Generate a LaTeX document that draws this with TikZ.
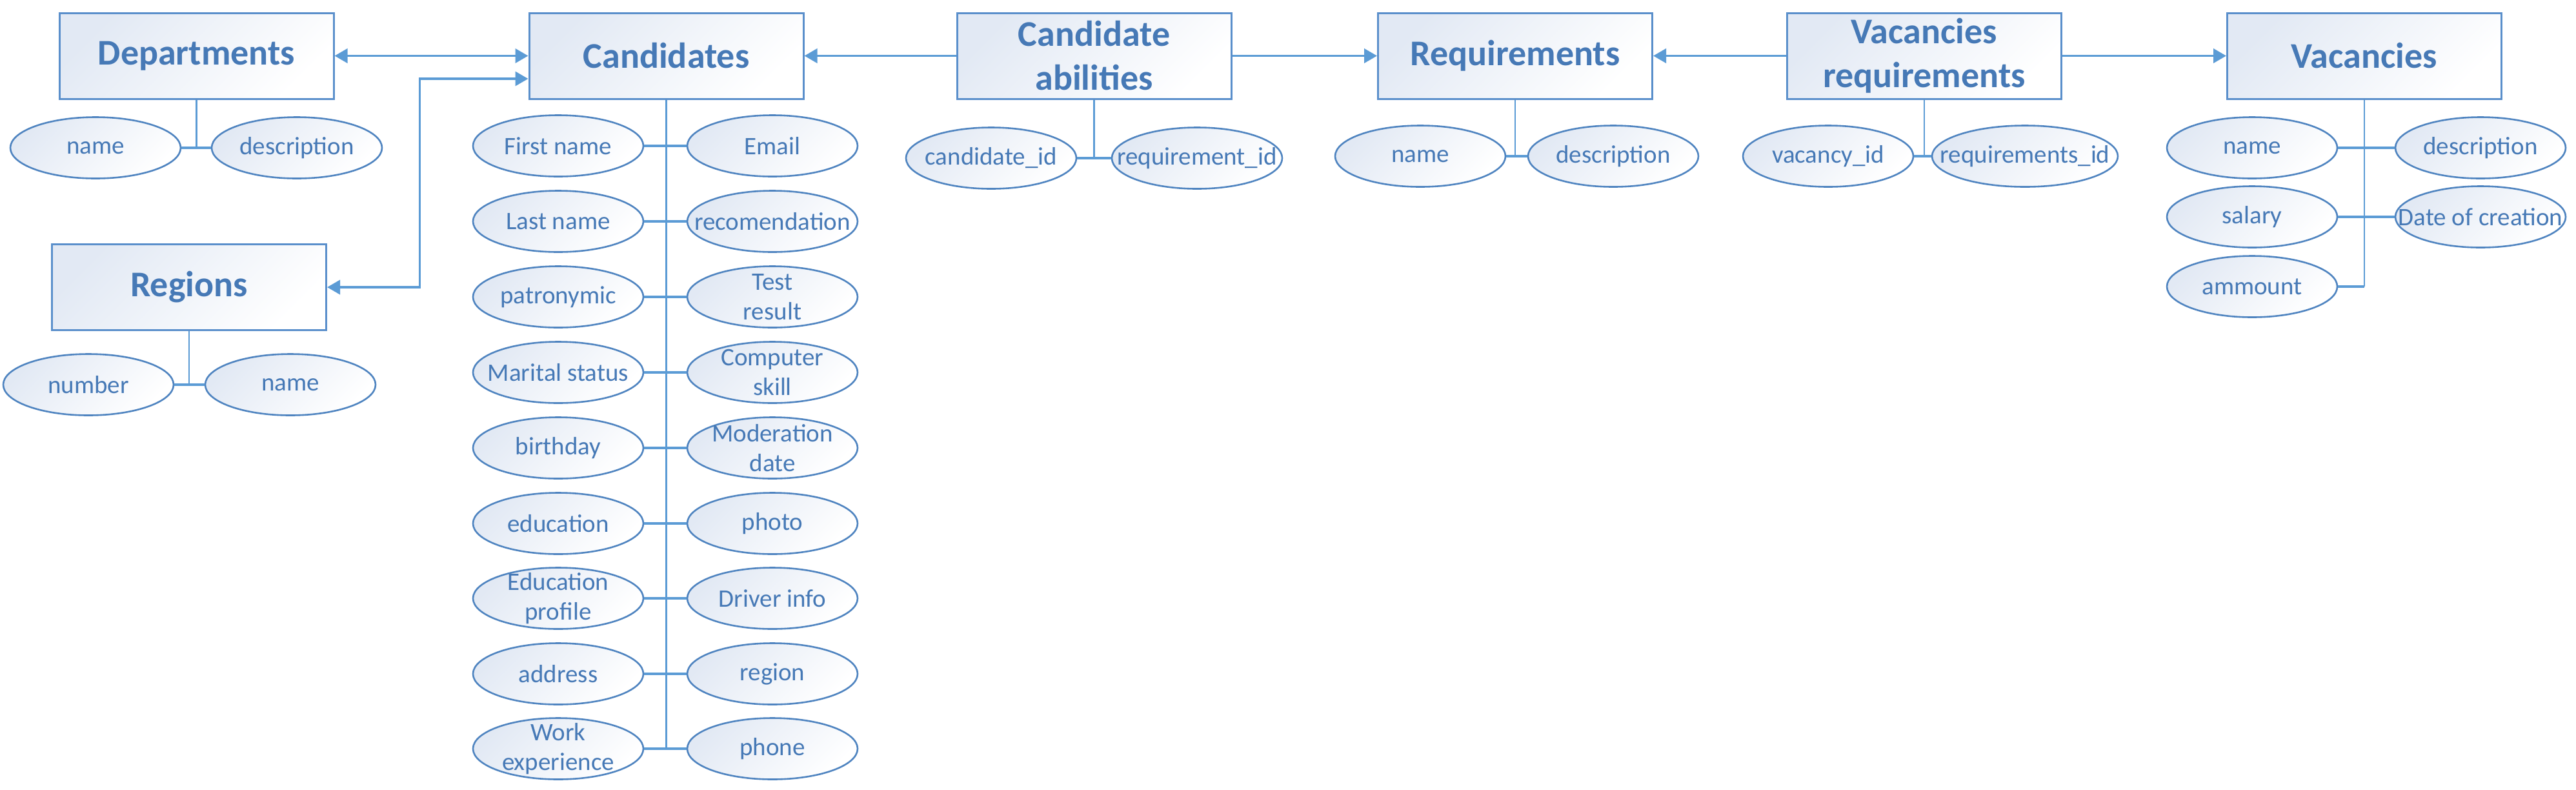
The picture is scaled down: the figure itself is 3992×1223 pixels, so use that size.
\documentclass[tikz,border=0pt]{standalone}
\usepackage{fontspec}
\setmainfont{Carlito}
\usetikzlibrary{shapes.geometric,arrows.meta,calc}
\definecolor{txtc}{HTML}{4679B6}
\definecolor{linec}{HTML}{5B9BD5}
\definecolor{boxc}{HTML}{5A8FCB}
\definecolor{ellc}{HTML}{4F84C0}
\definecolor{gradc}{HTML}{E2E9F4}
\begin{document}
\begin{tikzpicture}[x=0.5pt,y=-0.5pt,
  entity/.style={rectangle, draw=boxc, line width=1.5pt, minimum width=212.5pt, minimum height=66.5pt, inner sep=0pt,
    top color=gradc, bottom color=white, shading angle=45, text=txtc,
    font=\fontsize{28}{34}\selectfont\bfseries, align=center},
  attr/.style={ellipse, draw=ellc, line width=1.3pt, minimum width=132pt, minimum height=47.5pt,
    inner xsep=-25pt, inner ysep=-8pt, top color=gradc, bottom color=white, shading angle=45,
    text=txtc, font=\fontsize{19.5}{23}\selectfont, align=center},
  conn/.style={draw=linec, line width=2pt},
  trunk/.style={draw=linec, line width=1.2pt},
  arr/.style={draw=linec, line width=1.9pt, -{Triangle[length=10pt,width=11pt]}},
  biarr/.style={draw=linec, line width=1.9pt, {Triangle[length=10pt,width=11pt]}-{Triangle[length=10pt,width=11pt]}}
]
\useasboundingbox (0,0) rectangle (3992,1223);

% entities
\node[entity] (dept) at (304.5,86.5) {Departments};
\node[entity] (cand) at (1032.5,86.5) {Candidates};
\node[entity] (reg) at (293,445) {Regions};
\node[entity] (cab) at (1695.5,86.5) {Candidate\\abilities};
\node[entity] (req) at (2348,86.5) {Requirements};
\node[entity] (vreq) at (2982,86.5) {Vacancies\\requirements};
\node[entity] (vac) at (3664,86.5) {Vacancies};

% Departments attributes
\node[attr] (dname) at (148,229) {name};
\node[attr] (ddesc) at (460,229) {description};
\draw[trunk] (dept.south) -- (dept.south |- dname.east);
\draw[conn] (dname.east) -- (ddesc.west);

% Regions attributes
\node[attr] (rnum) at (137,596) {number};
\node[attr] (rname) at (450,596) {name};
\draw[trunk] (reg.south) -- (reg.south |- rnum.east);
\draw[conn] (rnum.east) -- (rname.west);

% Candidates attributes
\node[attr] (c1l) at (865,226) {First name};
\node[attr] (c1r) at (1197,226) {Email};
\node[attr] (c2l) at (865,343) {Last name};
\node[attr] (c2r) at (1197,343) {recomendation};
\node[attr] (c3l) at (865,460) {patronymic};
\node[attr] (c3r) at (1197,460) {Test\\result};
\node[attr] (c4l) at (865,577) {Marital status};
\node[attr] (c4r) at (1197,577) {Computer\\skill};
\node[attr] (c5l) at (865,694) {birthday};
\node[attr] (c5r) at (1197,694) {Moderation\\date};
\node[attr] (c6l) at (865,811) {education};
\node[attr] (c6r) at (1197,811) {photo};
\node[attr] (c7l) at (865,927) {Education\\profile};
\node[attr] (c7r) at (1197,927) {Driver info};
\node[attr] (c8l) at (865,1044) {address};
\node[attr] (c8r) at (1197,1044) {region};
\node[attr] (c9l) at (865,1160) {Work\\experience};
\node[attr] (c9r) at (1197,1160) {phone};
\draw[trunk] (cand.south) -- (cand.south |- c9l.east);
\foreach \i in {1,...,9} {\draw[conn] (c\i l.east) -- (c\i r.west);}

% Candidate abilities attributes
\node[attr] (cid) at (1536,245) {candidate\_id};
\node[attr] (rid) at (1855,245) {requirement\_id};
\draw[trunk] (cab.south) -- (cab.south |- cid.east);
\draw[conn] (cid.east) -- (rid.west);

% Requirements attributes
\node[attr] (qname) at (2201,242) {name};
\node[attr] (qdesc) at (2500,242) {description};
\draw[trunk] (req.south) -- (req.south |- qname.east);
\draw[conn] (qname.east) -- (qdesc.west);

% Vacancies requirements attributes
\node[attr] (vid) at (2833,242) {vacancy\_id};
\node[attr, minimum width=144pt] (rsid) at (3138,242) {requirements\_id};
\draw[trunk] (vreq.south) -- (vreq.south |- vid.east);
\draw[conn] (vid.east) -- (rsid.west);

% Vacancies attributes
\node[attr] (vname) at (3490,229) {name};
\node[attr] (vdesc) at (3844,229) {description};
\node[attr] (vsal) at (3490,336) {salary};
\node[attr] (vdate) at (3844,336) {Date of creation};
\node[attr] (vamm) at (3490,444) {ammount};
\draw[trunk] (vac.south) -- (vac.south |- vamm.east);
\draw[conn] (vname.east) -- (vdesc.west);
\draw[conn] (vsal.east) -- (vdate.west);
\draw[conn] (vamm.east) -- (vac.south |- vamm.east);

% relations
\draw[biarr] (dept.east) -- (cand.west);
\coordinate (candin) at ($(cand.west)+(0,35.5)$);
\draw[biarr] (reg.east) -| ($(candin)+(-168,0)$) -- (candin);
\draw[arr] (cab.west) -- (cand.east);
\draw[arr] (cab.east) -- (req.west);
\draw[arr] (vreq.west) -- (req.east);
\draw[arr] (vreq.east) -- (vac.west);
\end{tikzpicture}
\end{document}
